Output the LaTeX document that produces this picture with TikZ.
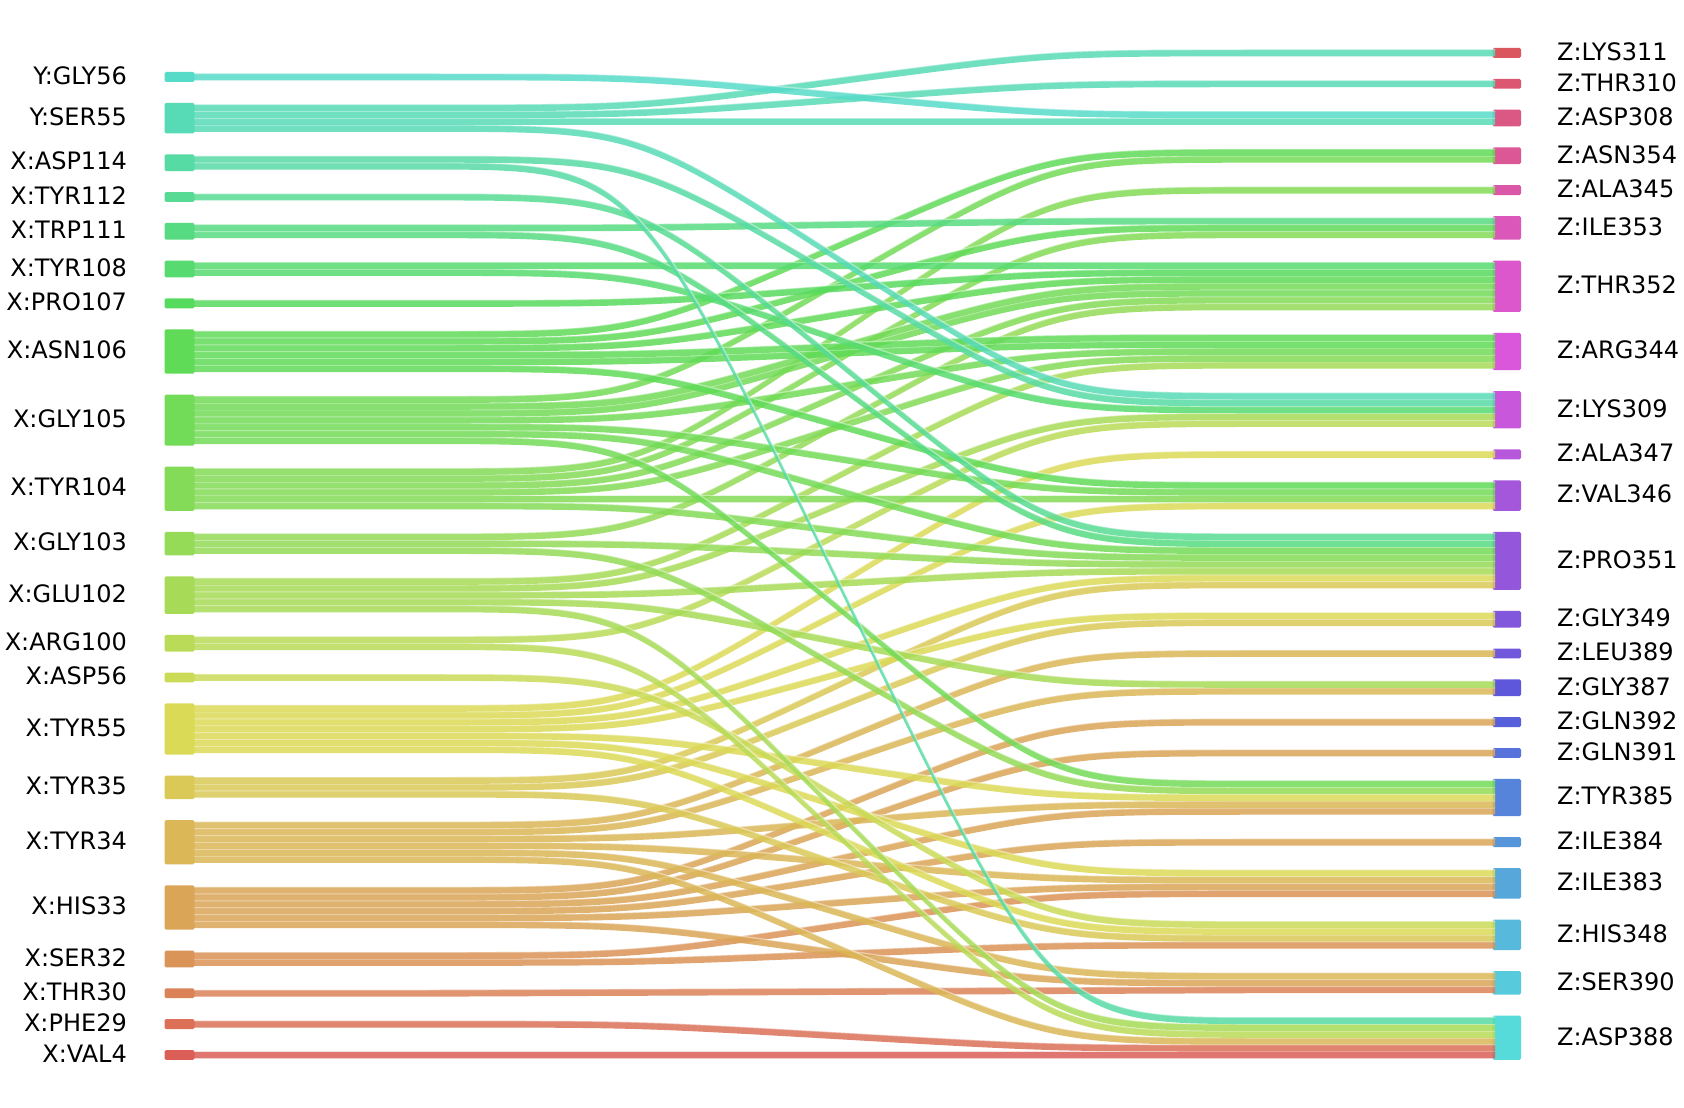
\documentclass[tikz,border=0pt]{standalone}
\usepackage{fontspec}
\setmainfont{DejaVu Sans}
\newcount\hcnt
\hcnt=0
\loop
  \pgfmathsetmacro\huev{0.01+\the\hcnt/45}
  \definecolor{tmpcol}{hsb}{\huev,0.6047,0.86}
  \colorlet{H\the\hcnt}[rgb]{tmpcol}
  \advance\hcnt by 1
\ifnum\hcnt<45 \repeat
\tikzset{
  nbox/.style={inner sep=0pt, outer sep=0pt, rounded corners=1.5pt, draw=none},
  lab/.style={inner sep=0pt, font=\fontsize{24}{28}\selectfont},
  strip/.style={fill opacity=0.85},
  seam/.style={white, draw opacity=0.42, line width=1.4pt},
}
\def\U{6.87}
\def\XL{194}
\def\XR{1495}
\def\XA{428.2}
\def\XM{843.5}
\def\XB{1258.8}
\def\CA{635.85}
\def\CB{1051.15}
\begin{document}
\begin{tikzpicture}[x=1pt,y=-1pt]
\useasboundingbox (0,0) rectangle (1684,1108);
\fill[white] (0,0) rectangle (1684,1108);
% left nodes
\xdef\ycur{73.5}
\foreach \lab/\n [count=\i] in {Y:GLY56/1, Y:SER55/4, X:ASP114/2, X:TYR112/1, X:TRP111/2, X:TYR108/2, X:PRO107/1, X:ASN106/6, X:GLY105/7, X:TYR104/6, X:GLY103/3, X:GLU102/5, X:ARG100/2, X:ASP56/1, X:TYR55/7, X:TYR35/3, X:TYR34/6, X:HIS33/6, X:SER32/2, X:THR30/1, X:PHE29/1, X:VAL4/1}{
  \pgfmathsetmacro\hh{\n*\U}
  \pgfmathsetmacro\hb{\hh+3}
  \pgfmathsetmacro\yc{\ycur+\hh/2}
  \pgfmathsetmacro\yl{\yc-1.5}
  \pgfmathsetmacro\ybot{\ycur+\hh}
  \pgfmathtruncatemacro\ci{22-\i}
  \expandafter\xdef\csname LB\i\endcsname{\ybot}
  \expandafter\xdef\csname LC\i\endcsname{0}
  \node[nbox, fill=H\ci, minimum width=30pt, minimum height=\hb pt] (L\i) at (179.5,\yc) {};
  \node[lab, anchor=east] (LL\i) at (127,\yl) {\lab};
  \pgfmathsetmacro\ynext{\ycur+\hh+24}
  \xdef\ycur{\ynext}
}
% right nodes
\xdef\ycur{49.5}
\foreach \lab/\n [count=\j] in {Z:LYS311/1, Z:THR310/1, Z:ASP308/2, Z:ASN354/2, Z:ALA345/1, Z:ILE353/3, Z:THR352/7, Z:ARG344/5, Z:LYS309/5, Z:ALA347/1, Z:VAL346/4, Z:PRO351/8, Z:GLY349/2, Z:LEU389/1, Z:GLY387/2, Z:GLN392/1, Z:GLN391/1, Z:TYR385/5, Z:ILE384/1, Z:ILE383/4, Z:HIS348/4, Z:SER390/3, Z:ASP388/6}{
  \pgfmathsetmacro\hh{\n*\U}
  \pgfmathsetmacro\hb{\hh+3}
  \pgfmathsetmacro\yc{\ycur+\hh/2}
  \pgfmathsetmacro\yl{\yc-1.5}
  \pgfmathsetmacro\ybot{\ycur+\hh}
  \pgfmathtruncatemacro\ci{45-\j}
  \expandafter\xdef\csname RB\j\endcsname{\ybot}
  \expandafter\xdef\csname RC\j\endcsname{0}
  \node[nbox, fill=H\ci, minimum width=28.5pt, minimum height=\hb pt] (R\j) at (1506.75,\yc) {};
  \node[lab, anchor=west] (RL\j) at (1557,\yl) {\lab};
  \pgfmathsetmacro\ynext{\ycur+\hh+24}
  \xdef\ycur{\ynext}
}
% links, drawn from the bottom source upwards (stacked from the bottom of each box)
\foreach \src/\tgt in {22/23, 21/23, 20/22, 19/21, 19/20, 18/22, 18/20, 18/19, 18/18, 18/17, 18/16,
  17/23, 17/22, 17/20, 17/18, 17/15, 17/14, 16/21, 16/13, 16/12,
  15/21, 15/20, 15/18, 15/13, 15/12, 15/11, 15/10, 14/21, 13/23, 13/9,
  12/23, 12/15, 12/12, 12/9, 12/8, 11/18, 11/12, 11/7,
  10/12, 10/11, 10/8, 10/7, 10/6, 10/5, 9/18, 9/12, 9/11, 9/8, 9/7, 9/7, 9/4,
  8/11, 8/8, 8/8, 8/7, 8/6, 8/4, 7/7, 6/9, 6/7, 5/12, 5/6, 4/12, 3/23, 3/9,
  2/9, 2/3, 2/2, 2/1, 1/3}{
  \edef\myLB{\csname LB\src\endcsname}\edef\myLC{\csname LC\src\endcsname}
  \edef\myRB{\csname RB\tgt\endcsname}\edef\myRC{\csname RC\tgt\endcsname}
  \pgfmathsetmacro\ya{\myLB-(\myLC+1)*\U}
  \pgfmathsetmacro\yb{\myRB-(\myRC+1)*\U}
  \pgfmathtruncatemacro\tmp{\myLC+1}\expandafter\xdef\csname LC\src\endcsname{\tmp}
  \pgfmathtruncatemacro\tmp{\myRC+1}\expandafter\xdef\csname RC\tgt\endcsname{\tmp}
  \pgfmathsetmacro\yaa{\ya+\U}
  \pgfmathsetmacro\ybb{\yb+\U}
  \pgfmathsetmacro\ym{(\ya+\yb)/2}
  \pgfmathsetmacro\ymm{\ym+\U}
  \pgfmathtruncatemacro\ci{22-\src}
  \fill[H\ci, strip] (\XL,\ya) -- (\XA,\ya) .. controls (\CA,\ya) .. (\XM,\ym) .. controls (\CB,\yb) .. (\XB,\yb) -- (\XR,\yb)
     -- (\XR,\ybb) -- (\XB,\ybb) .. controls (\CB,\ybb) .. (\XM,\ymm) .. controls (\CA,\yaa) .. (\XA,\yaa) -- (\XL,\yaa) -- cycle;
  \draw[seam] (\XL,\ya) -- (\XA,\ya) .. controls (\CA,\ya) .. (\XM,\ym) .. controls (\CB,\yb) .. (\XB,\yb) -- (\XR,\yb);
}
\end{tikzpicture}
\end{document}
